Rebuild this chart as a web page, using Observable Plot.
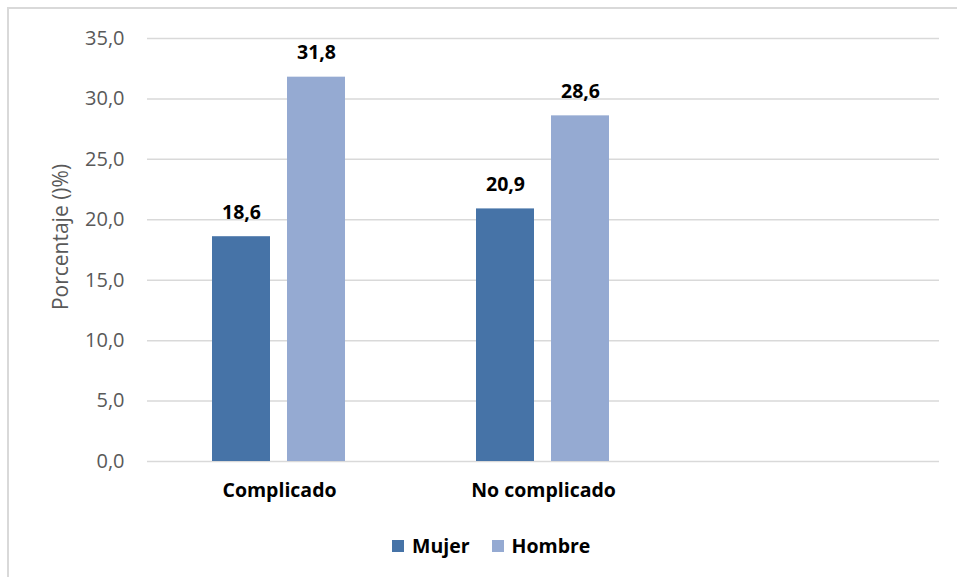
<!DOCTYPE html>
<html>
<head>
<meta charset="utf-8">
<script src="https://cdn.jsdelivr.net/npm/d3@7"></script>
<script src="https://cdn.jsdelivr.net/npm/@observablehq/plot@0.6"></script>
<style>
  html, body { margin: 0; padding: 0; background: #fff; width: 957px; height: 577px; overflow: hidden; }
  body { position: relative; font-family: "Open Sans", sans-serif; }
  #frame { position: absolute; left: 7px; top: 7px; width: 980px; height: 600px; border: 2px solid #d9d9d9; box-sizing: border-box; }
  #chart { position: absolute; left: 0; top: 0; }
  #ylabel { position: absolute; left: 60px; top: 237px; transform: translate(-50%, -50%) rotate(-90deg); white-space: nowrap; font-size: 21px; color: #595959; }
  #legend { position: absolute; left: 392px; top: 532px; display: flex; align-items: center; font-weight: bold; font-size: 19.5px; color: #000; }
  #legend .sw { width: 12px; height: 12px; display: inline-block; margin-right: 8px; }
  #legend .item { display: flex; align-items: center; margin-right: 22px; }
</style>
</head>
<body>
<div id="frame"></div>
<div id="chart"></div>
<div id="ylabel"></div>
<div id="legend"></div>
<script>
const categories = ["Complicado", "No complicado", ""];
const sexes = ["Mujer", "Hombre"];
const mujer = [18.6, 20.9];
const hombre = [31.8, 28.6];
const yTicks = [0, 5, 10, 15, 20, 25, 30, 35];
const colors = ["#4673a7", "#95aad2"];
const yLabel = "Porcentaje ()%)";

const data = [];
categories.forEach((c, i) => {
  if (i < mujer.length) {
    data.push({cat: c, sex: "Mujer", value: mujer[i]});
    data.push({cat: c, sex: "Hombre", value: hombre[i]});
  }
});
const gridData = categories.flatMap(c => yTicks.map(t => ({cat: c, y: t})));

const fmt = d => d.toFixed(1).replace(".", ",");

const chart = Plot.plot({
  width: 957,
  height: 520,
  marginLeft: 146,
  marginRight: 18,
  marginTop: 38,
  marginBottom: 59,
  style: {fontFamily: "Open Sans", fontSize: "19px", background: "transparent", overflow: "visible"},
  fx: {domain: categories, padding: 0, label: null},
  x: {domain: sexes, paddingInner: 0.2246, paddingOuter: 0.857, axis: null},
  y: {domain: [0, 35], ticks: yTicks, label: null},
  color: {domain: sexes, range: colors},
  marks: [
    Plot.ruleY(gridData, {fx: "cat", y: "y", stroke: "#d9d9d9", strokeWidth: 1.5}),
    Plot.barY(data, {fx: "cat", x: "sex", y: "value", fill: "sex"}),
    Plot.text(data, {fx: "cat", x: "sex", y: "value", text: d => fmt(d.value), dy: -24, fontWeight: "bold", fontSize: 19.5, fill: "#000"}),
    Plot.axisY(yTicks, {tickSize: 0, tickPadding: 23, tickFormat: fmt, color: "#595959", fontSize: 20, label: null}),
    Plot.axisFx({anchor: "bottom", tickSize: 0, tickPadding: 22, fontWeight: "bold", fontSize: 19.5, color: "#000", label: null})
  ]
});
document.getElementById("chart").appendChild(chart);
document.getElementById("ylabel").textContent = yLabel;

const legend = document.getElementById("legend");
sexes.forEach((s, i) => {
  const item = document.createElement("div");
  item.className = "item";
  const sw = document.createElement("span");
  sw.className = "sw";
  sw.style.background = colors[i];
  const t = document.createElement("span");
  t.textContent = s;
  item.appendChild(sw);
  item.appendChild(t);
  legend.appendChild(item);
});
</script>
</body>
</html>
